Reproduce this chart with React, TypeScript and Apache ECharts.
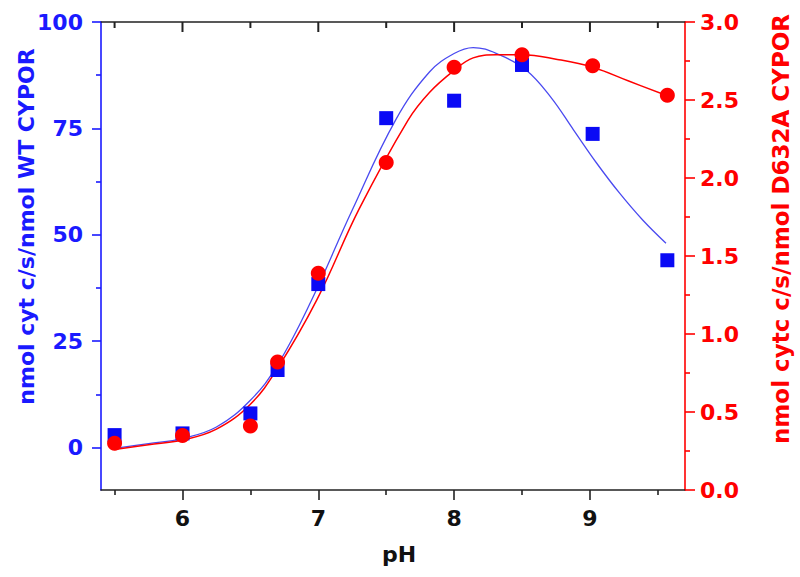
import React, { useEffect, useRef } from "react";
import * as echarts from "echarts";

// Measured data points
const phValues = [5.5, 6.0, 6.5, 6.7, 7.0, 7.5, 8.0, 8.5, 9.02, 9.57];
const wtActivity = [2.9, 3.3, 8.0, 18.2, 38.4, 77.4, 81.5, 89.9, 73.7, 44.0];
const d632aActivity = [0.30, 0.35, 0.41, 0.82, 1.39, 2.10, 2.71, 2.79, 2.72, 2.53];

// Fitted curves
const wtFitPh = [5.5, 5.75, 6.0, 6.25, 6.5, 6.7, 6.95, 7.25, 7.57, 7.82, 8.0, 8.14, 8.34, 8.53, 8.71, 8.88, 9.05, 9.22, 9.39, 9.56];
const wtFitVal = [-0.2, 0.9, 2.1, 4.8, 11.1, 19.4, 34.6, 55.8, 77.0, 88.3, 92.6, 94.0, 92.2, 88.7, 82.4, 74.6, 66.8, 59.7, 53.4, 48.0];
const d632aFitPh = [5.5, 5.75, 6.0, 6.25, 6.5, 6.7, 6.99, 7.3, 7.66, 7.82, 8.0, 8.14, 8.31, 8.5, 8.76, 9.02, 9.29, 9.56];
const d632aFitVal = [0.26, 0.29, 0.32, 0.39, 0.55, 0.78, 1.22, 1.80, 2.37, 2.55, 2.69, 2.77, 2.79, 2.79, 2.76, 2.71, 2.62, 2.53];

// Tick positions
const xMajorTicks = [6, 7, 8, 9];
const xMinorTicks = [5.5, 6.5, 7.5, 8.5, 9.5];
const yLeftMajorTicks = [0, 25, 50, 75, 100];
const yLeftMinorTicks = [12.5, 37.5, 62.5, 87.5];

const leftTitle = "nmol cyt c/s/nmol WT CYPOR";
const rightTitle = "nmol cytc c/s/nmol D632A CYPOR";
const xTitle = "pH";

const FONT = "DejaVu Sans";
const BLUE = "#1a1aff";
const RED = "#ff0000";
const BLACK = "#222222";

const X_MIN = 5.4;
const X_MAX = 9.7;
const YL_MIN = -10;
const YL_MAX = 100;

export default function App() {
  const ref = useRef<HTMLDivElement>(null);
  useEffect(() => {
    if (!ref.current) return;
    const chart = echarts.init(ref.current, null, { renderer: "svg" });
    const xBase = { type: "value", min: X_MIN, max: X_MAX, splitLine: { show: false } } as any;
    const yLeftBase = { type: "value", min: YL_MIN, max: YL_MAX, position: "left", splitLine: { show: false } } as any;
    const tickStyle = (c: string) => ({ color: c, width: 1.6 });
    const topTickData = [
      ...xMajorTicks.map((v) => [v, YL_MAX, 1]),
      ...xMinorTicks.map((v) => [v, YL_MAX, 0]),
    ];
    chart.setOption({
      animation: false,
      backgroundColor: "#ffffff",
      grid: { left: 101, right: 115, top: 22, bottom: 87, containLabel: false },
      xAxis: [
        {
          ...xBase,
          position: "bottom",
          axisLine: { show: true, onZero: false, lineStyle: tickStyle(BLACK) },
          axisTick: { show: true, inside: false, length: 10, customValues: xMajorTicks, lineStyle: tickStyle(BLACK) },
          axisLabel: { show: true, customValues: xMajorTicks, margin: 17, color: "#111", fontFamily: FONT, fontWeight: "bold", fontSize: 22 },
        },
        {
          ...xBase,
          position: "bottom",
          axisLine: { show: false, onZero: false },
          axisTick: { show: true, inside: false, length: 5, customValues: xMinorTicks, lineStyle: tickStyle(BLACK) },
          axisLabel: { show: false },
        },
        {
          ...xBase,
          position: "top",
          axisLine: { show: true, onZero: false, lineStyle: tickStyle(BLACK) },
          axisTick: { show: false },
          axisLabel: { show: false },
        },
      ],
      yAxis: [
        {
          ...yLeftBase,
          axisLine: { show: true, onZero: false, lineStyle: tickStyle(BLUE) },
          axisTick: { show: true, inside: false, length: 9, customValues: yLeftMajorTicks, lineStyle: tickStyle(BLUE) },
          axisLabel: { show: true, customValues: yLeftMajorTicks, margin: 18, color: BLUE, fontFamily: FONT, fontWeight: "bold", fontSize: 22 },
        },
        {
          ...yLeftBase,
          axisLine: { show: false, onZero: false },
          axisTick: { show: true, inside: false, length: 5, customValues: yLeftMinorTicks, lineStyle: tickStyle(BLUE) },
          axisLabel: { show: false },
        },
        {
          type: "value",
          position: "right",
          min: 0,
          max: 3,
          interval: 0.5,
          splitLine: { show: false },
          axisLine: { show: true, onZero: false, lineStyle: tickStyle(RED) },
          axisTick: { show: true, inside: false, length: 10, lineStyle: tickStyle(RED) },
          minorTick: { show: true, splitNumber: 2, length: 5, lineStyle: tickStyle(RED) },
          axisLabel: {
            show: true,
            margin: 15,
            color: RED,
            fontFamily: FONT,
            fontWeight: "bold",
            fontSize: 22,
            formatter: (v: number) => v.toFixed(1),
          },
        },
      ],
      series: [
        {
          // inward ticks on the top frame, placed through the x scale
          type: "custom",
          xAxisIndex: 0,
          yAxisIndex: 0,
          clip: false,
          silent: true,
          data: topTickData,
          renderItem: (_params: any, api: any) => {
            const p = api.coord([api.value(0), api.value(1)]);
            const len = api.value(2) ? 10 : 6;
            return {
              type: "rect",
              shape: { x: p[0] - 1, y: p[1], width: 2, height: len },
              style: { fill: BLACK },
            };
          },
          z: 6,
        },
        {
          type: "line",
          xAxisIndex: 0,
          yAxisIndex: 0,
          data: wtFitPh.map((p, i) => [p, wtFitVal[i]]),
          smooth: 0.4,
          showSymbol: false,
          symbol: "none",
          lineStyle: { color: "#4a4af0", width: 1.3 },
          z: 2,
        },
        {
          type: "line",
          xAxisIndex: 0,
          yAxisIndex: 2,
          data: d632aFitPh.map((p, i) => [p, d632aFitVal[i]]),
          smooth: 0.4,
          showSymbol: false,
          symbol: "none",
          lineStyle: { color: RED, width: 1.5 },
          z: 3,
        },
        {
          type: "scatter",
          xAxisIndex: 0,
          yAxisIndex: 0,
          data: phValues.map((p, i) => [p, wtActivity[i]]),
          symbol: "rect",
          symbolSize: 14,
          itemStyle: { color: "#0a0af5", opacity: 1 },
          z: 4,
        },
        {
          type: "scatter",
          xAxisIndex: 0,
          yAxisIndex: 2,
          data: phValues.map((p, i) => [p, d632aActivity[i]]),
          symbol: "circle",
          symbolSize: 15,
          itemStyle: { color: RED, opacity: 1 },
          z: 5,
        },
      ],
      graphic: [
        {
          type: "text",
          x: 26,
          y: 226.5,
          rotation: Math.PI / 2,
          style: { text: leftTitle, fill: BLUE, font: `bold 22px "${FONT}"`, align: "center", verticalAlign: "middle" },
        },
        {
          type: "text",
          x: 781,
          y: 229,
          rotation: Math.PI / 2,
          style: { text: rightTitle, fill: RED, font: `bold 23px "${FONT}"`, align: "center", verticalAlign: "middle" },
        },
        {
          type: "text",
          x: 399,
          y: 554,
          style: { text: xTitle, fill: "#111", font: `bold 22px "${FONT}"`, align: "center", verticalAlign: "middle" },
        },
      ],
    });
    return () => chart.dispose();
  }, []);
  return <div ref={ref} style={{ width: 800, height: 577, position: "fixed", left: 0, top: 0 }} />;
}
